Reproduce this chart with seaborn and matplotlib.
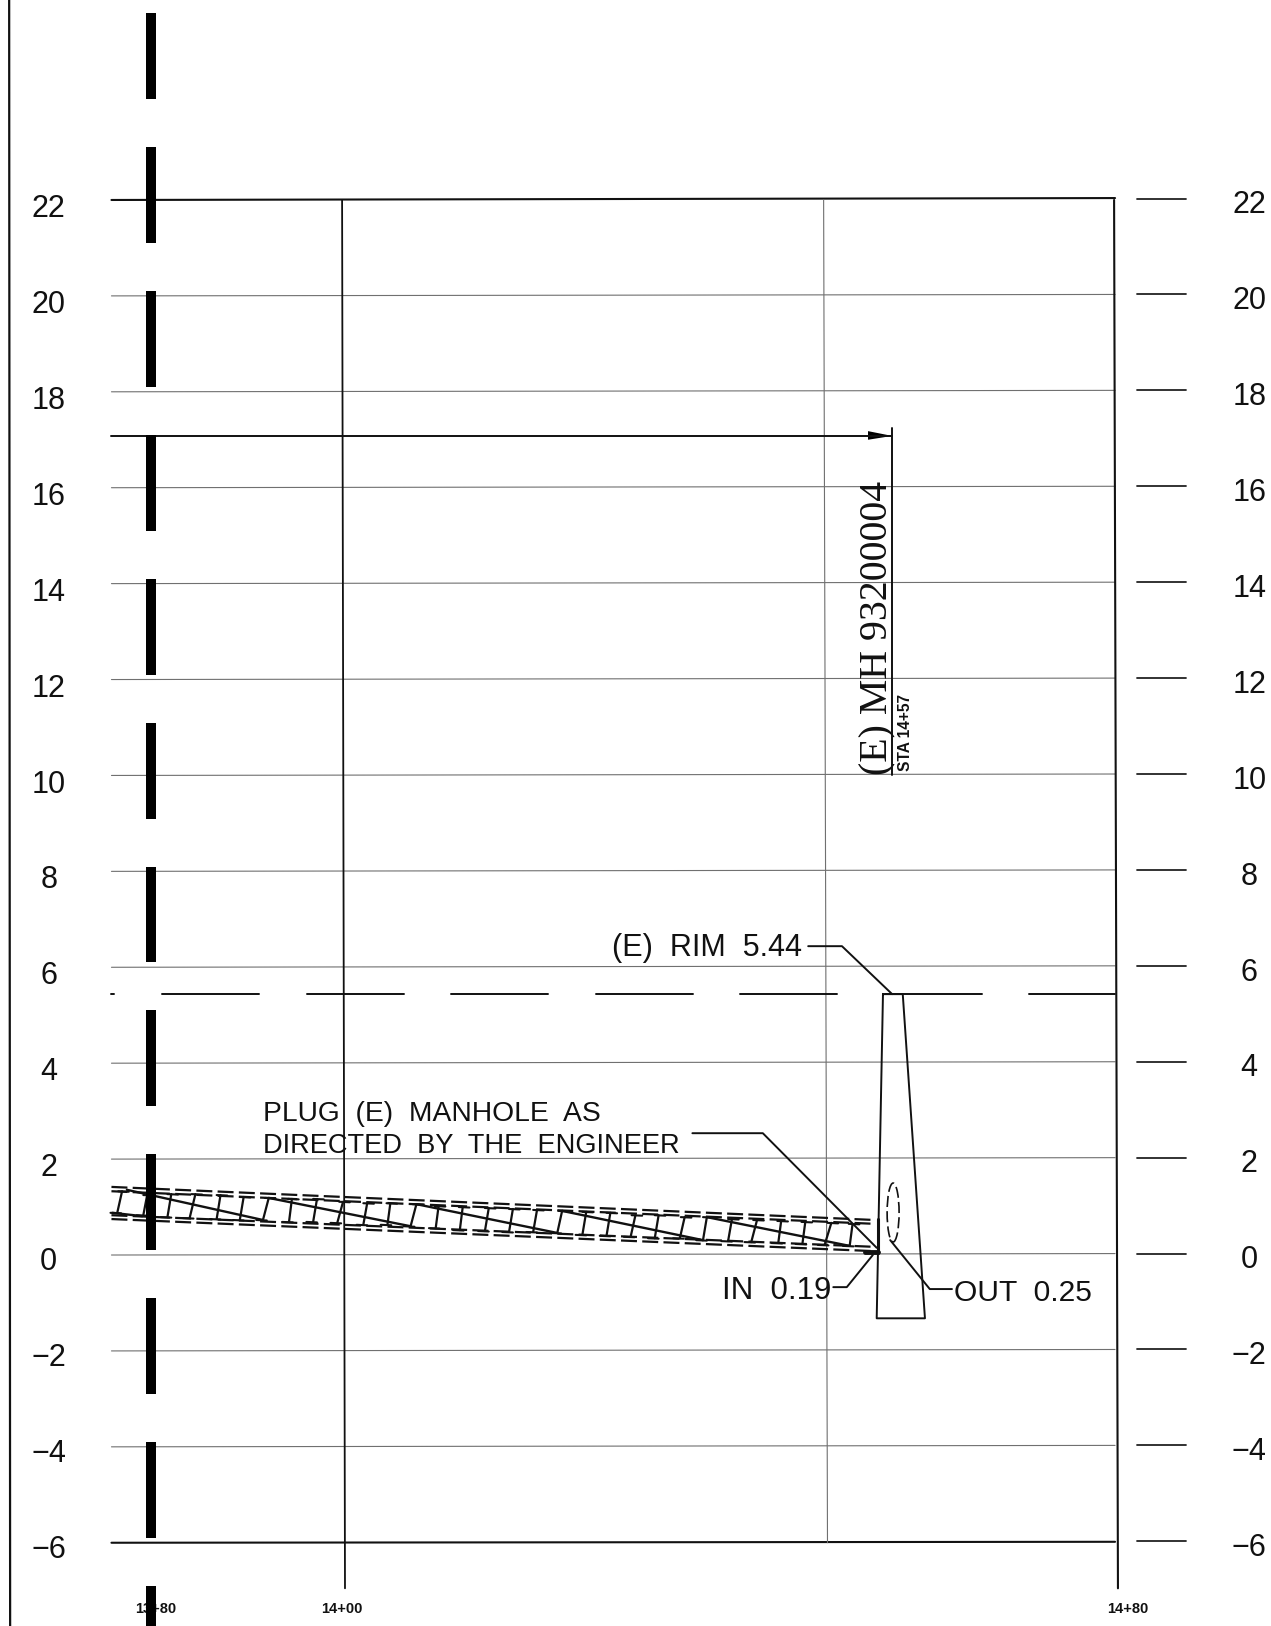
#!/usr/bin/env python3
# Profile sheet: manhole 14+57, plug note and sloped pipe, redrawn with seaborn lines
import matplotlib
matplotlib.use("Agg")
import pandas as pd
import matplotlib.pyplot as plt
import seaborn as sns
from matplotlib.patches import Ellipse

# ---------- DATA (station in ft, elevation in ft) ----------
ELEV_TICKS = [22, 20, 18, 16, 14, 12, 10, 8, 6, 4, 2, 0, -2, -4, -6]
STATION_LABELS = ["13+80", "14+00", "14+80"]

MATCH_TOPS = [25.9, 23.1, 20.1, 17.1, 14.1, 11.1, 8.1, 5.1, 2.1, -0.9, -3.9, -6.9]
MATCH_BOTS = [24.1, 21.1, 18.1, 15.1, 12.1, 9.1, 6.1, 3.1, 0.1, -2.9, -5.9, -7.8]

GROUND_ELEV = 5.44
GROUND_START = [1375.9, 1381.1, 1396.2, 1411.1, 1426.1, 1441.0, 1456.1, 1471.0]
GROUND_END = [1376.2, 1391.2, 1406.2, 1421.1, 1436.2, 1451.1, 1466.1, 1479.9]

MANHOLE_X = [1455.85, 1455.2, 1460.2, 1457.9, 1455.85]
MANHOLE_Y = [5.44, -1.32, -1.32, 5.44, 5.44]

# four pipe walls, upstream end then manhole end
PIPE_X = [1375.9, 1455.0]
PIPE_WALLS = [[1.42, 0.73], [1.33, 0.65], [0.83, 0.17], [0.75, 0.08]]

# corrugation stems
STEM_X0 = [1376.5, 1379.2, 1381.7, 1384.0, 1386.8, 1389.2, 1391.6, 1394.3, 1396.8, 1399.3, 1402.0,
           1404.5, 1406.9, 1409.5, 1412.0, 1414.6, 1417.1, 1419.6, 1422.1, 1424.7, 1427.2, 1429.7,
           1432.2, 1434.8, 1437.2, 1439.8, 1442.2, 1445.0, 1447.5, 1449.8, 1452.4]
STEM_X1 = [1377.0, 1379.6, 1382.1, 1384.6, 1387.2, 1389.6, 1392.2, 1394.6, 1397.2, 1399.9, 1402.4,
           1404.8, 1407.5, 1409.8, 1412.3, 1415.0, 1417.5, 1420.0, 1422.6, 1425.1, 1427.6, 1430.2,
           1432.6, 1435.3, 1437.6, 1440.2, 1442.8, 1445.3, 1447.8, 1450.5, 1452.7]
STEM_Y0 = [0.88, 0.83, 0.79, 0.77, 0.75, 0.73, 0.73, 0.69, 0.69, 0.67, 0.63,
           0.63, 0.60, 0.56, 0.52, 0.50, 0.48, 0.48, 0.46, 0.42, 0.40, 0.38,
           0.35, 0.35, 0.31, 0.29, 0.27, 0.25, 0.23, 0.21, 0.19]
STEM_Y1 = [1.33, 1.25, 1.27, 1.27, 1.25, 1.21, 1.19, 1.17, 1.17, 1.11, 1.08,
           1.08, 1.06, 1.02, 1.00, 0.98, 0.96, 0.94, 0.92, 0.90, 0.88, 0.83,
           0.83, 0.79, 0.79, 0.75, 0.73, 0.71, 0.69, 0.67, 0.65]

# long diagonal runs across the pipe
RUN_X0 = [1376.0, 1377.5, 1392.2, 1407.5, 1422.6, 1437.6]
RUN_X1 = [1379.1, 1391.6, 1406.9, 1422.1, 1437.2, 1452.4]
RUN_Y0 = [0.88, 1.36, 1.19, 1.06, 0.92, 0.79]
RUN_Y1 = [0.81, 0.73, 0.60, 0.46, 0.31, 0.19]

RIM_LEADER_X, RIM_LEADER_Y = [1448.1, 1451.6, 1456.8], [6.44, 6.44, 5.44]
PLUG_LEADER_X, PLUG_LEADER_Y = [1436.1, 1443.4, 1455.2], [2.54, 2.54, 0.15]
IN_LEADER_X, IN_LEADER_Y = [1450.7, 1452.1, 1454.8], [-0.67, -0.67, 0.0]
OUT_LEADER_X, OUT_LEADER_Y = [1456.6, 1460.7, 1463.0], [0.31, -0.71, -0.71]
# ------------------------------------------------------------

INK = "#111111"
GRID = "#707070"
LABEL_FONT = "Liberation Sans"

sns.set_theme(style="white")
plt.rcParams["lines.scale_dashes"] = False

fig = plt.figure(figsize=(12.71, 16.26), dpi=100)
ax = fig.add_axes([0, 0, 1, 1])


def trace(xs, ys, color=INK, lw=1.4, **kw):
    sns.lineplot(x=xs, y=ys, sort=False, estimator=None, errorbar=None,
                 color=color, linewidth=lw, legend=False, ax=ax, **kw)


def trace_segments(x0, y0, x1, y1, color=INK, lw=1.4, **kw):
    # one table with a row per end point, so a single lineplot draws all of them
    n = len(x0)
    tbl = pd.DataFrame({
        "seg": list(range(n)) * 2,
        "x": list(x0) + list(x1),
        "y": list(y0) + list(y1),
    }).sort_values("seg", kind="stable")
    sns.lineplot(data=tbl, x="x", y="y", units="seg", sort=False, estimator=None, errorbar=None,
                 color=color, linewidth=lw, legend=False, ax=ax, **kw)


# ---------- GRID ----------
inner = [e for e in ELEV_TICKS if e not in (22, -6)]
trace_segments([1375.9] * len(inner), inner, [1479.9] * len(inner), [e + 0.03 for e in inner],
               color=GRID, lw=0.8)
trace_segments([1375.9, 1375.9], [22, -6], [1479.9, 1479.9], [22.04, -5.98], lw=1.5)
trace([1449.7, 1450.1], [22, -6], color=GRID, lw=0.8)
trace([1399.8, 1400.1], [22, -6.95], lw=1.3)
trace([1479.8, 1480.2], [22, -6.95], lw=1.5)
trace([1365.3, 1365.4], [26.17, -7.74], lw=1.6)

# right-hand tick dashes
trace_segments([1482.2] * len(ELEV_TICKS), [e + 0.03 for e in ELEV_TICKS],
               [1487.3] * len(ELEV_TICKS), [e + 0.03 for e in ELEV_TICKS], color="#222222", lw=1.3)

# ---------- MATCH LINE AT 13+80 ----------
trace_segments([1380.0] * len(MATCH_TOPS), MATCH_TOPS, [1380.0] * len(MATCH_BOTS), MATCH_BOTS,
               color="black", lw=7.2, zorder=5, solid_capstyle="butt")

# ---------- GROUND, ARROW, MANHOLE ----------
trace_segments(GROUND_START, [GROUND_ELEV] * 8, GROUND_END, [GROUND_ELEV] * 8, lw=1.4)
trace(MANHOLE_X, MANHOLE_Y, lw=1.4)

trace([1375.9, 1456.8], [17.08, 17.08], lw=1.4)
ax.fill([1454.3, 1456.8, 1454.3], [17.0, 17.08, 17.18], color="black", lw=0)
trace([1456.8, 1456.8], [17.25, 10.0], lw=1.4)

# ---------- PIPE ----------
for wall in PIPE_WALLS:
    trace(PIPE_X, wall, lw=1.6, linestyle=(0, (11.5, 3.8)))
trace_segments(STEM_X0, STEM_Y0, STEM_X1, STEM_Y1, lw=1.6)
trace_segments([x - 0.4 for x in STEM_X1], STEM_Y1, [x + 0.7 for x in STEM_X1],
               [y - 0.01 for y in STEM_Y1], lw=1.5)
trace_segments([x - 0.7 for x in STEM_X0], STEM_Y0, [x + 0.4 for x in STEM_X0],
               [y - 0.01 for y in STEM_Y0], lw=1.5)
trace_segments(RUN_X0, RUN_Y0, RUN_X1, RUN_Y1, lw=1.7)
trace([1455.3, 1455.3], [0.75, 0.05], lw=2.2)
trace([1454.0, 1455.3], [0.07, 0.07], lw=3.5)

ax.add_patch(Ellipse((1456.9, 0.885), 1.24, 1.23, fill=False, ec=INK, lw=1.2, ls=(0, (8, 3))))

# ---------- LEADERS ----------
trace(RIM_LEADER_X, RIM_LEADER_Y, lw=1.4)
trace(PLUG_LEADER_X, PLUG_LEADER_Y, lw=1.4)
trace(IN_LEADER_X, IN_LEADER_Y, lw=1.4)
trace(OUT_LEADER_X, OUT_LEADER_Y, lw=1.4)

# ---------- TEXT ----------
for e in ELEV_TICKS:
    lab = str(e).replace("-", "\u2212")
    # left labels sit a touch higher below zero on the sheet
    left_drop = 0.19 if e > 0 else 0.15
    ax.text(1369.4, e - left_drop, lab, fontsize=22, family=LABEL_FONT, ha="center", va="center", color=INK)
    ax.text(1493.8, e - 0.11, lab, fontsize=22, family=LABEL_FONT, ha="center", va="center", color=INK)

for st, lab in zip([1380.5, 1399.8, 1481.2], STATION_LABELS):
    ax.text(st, -7.38, lab, fontsize=10.5, family=LABEL_FONT, weight="bold", ha="center", va="center", color=INK)

ax.text(1391.6, 2.94, "PLUG  (E)  MANHOLE  AS", fontsize=20.3, family=LABEL_FONT, ha="left", va="center", color=INK)
ax.text(1391.6, 2.27, "DIRECTED  BY  THE  ENGINEER", fontsize=19.6, family=LABEL_FONT, ha="left", va="center", color=INK)
ax.text(1427.8, 6.40, "(E)  RIM  5.44", fontsize=22, family=LABEL_FONT, ha="left", va="center", color=INK)
ax.text(1439.2, -0.75, "IN  0.19", fontsize=22.5, family=LABEL_FONT, ha="left", va="center", color=INK)
ax.text(1463.2, -0.79, "OUT  0.25", fontsize=21.6, family=LABEL_FONT, ha="left", va="center", color=INK)

ax.text(1455.3, 10.0, "(E) MH 93200004", rotation=90, fontsize=28.7, family="Liberation Serif",
        ha="center", va="bottom", color=INK)
ax.text(1458.2, 10.1, "STA 14+57", rotation=90, fontsize=11.2, family=LABEL_FONT, weight="bold",
        ha="center", va="bottom", color=INK)

ax.set_xlim(1364.35, 1496.06)
ax.set_ylim(-7.736, 26.17)
ax.axis("off")

fig.savefig("out.png", dpi=100, facecolor="white")
